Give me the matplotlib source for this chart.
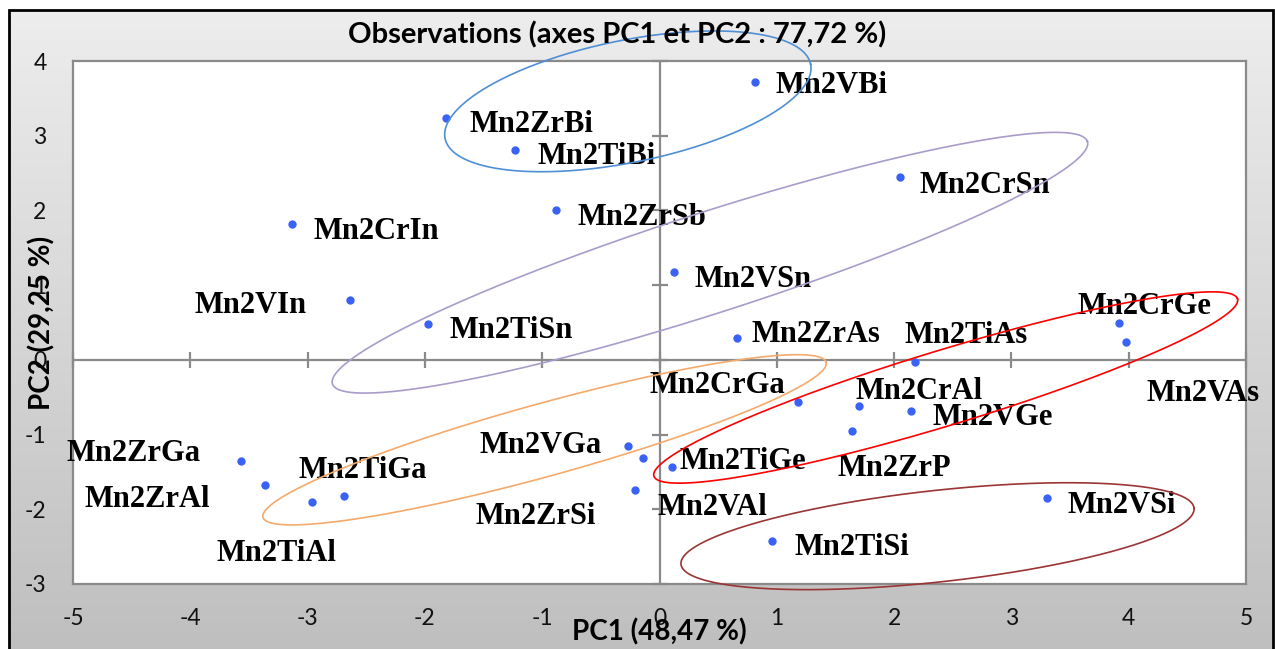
import matplotlib.pyplot as plt
import numpy as np
from matplotlib.patches import Rectangle

plt.rcParams['axes.unicode_minus'] = False

# PCA observations on the first two components
names = ['Mn2VBi', 'Mn2ZrBi', 'Mn2TiBi', 'Mn2CrSn', 'Mn2ZrSb', 'Mn2CrIn', 'Mn2VSn',
         'Mn2VIn', 'Mn2TiSn', 'Mn2ZrAs', 'Mn2TiAs', 'Mn2CrGe', 'Mn2VAs', 'Mn2CrGa',
         'Mn2CrAl', 'Mn2VGe', 'Mn2ZrP', 'Mn2VGa', 'Mn2ZrSi', 'Mn2VAl', 'Mn2TiGe',
         'Mn2ZrGa', 'Mn2ZrAl', 'Mn2TiAl', 'Mn2TiGa', 'Mn2VSi', 'Mn2TiSi']
pc1 = [0.81, -1.82, -1.23, 2.05, -0.88, -3.13, 0.12,
       -2.64, -1.97, 0.66, 2.18, 3.92, 3.98, 1.18,
       1.70, 2.14, 1.64, -0.27, -0.14, -0.21, 0.11,
       -3.57, -3.36, -2.96, -2.69, 3.30, 0.96]
pc2 = [3.72, 3.24, 2.81, 2.45, 2.01, 1.82, 1.18,
       0.80, 0.48, 0.29, -0.03, 0.50, 0.24, -0.56,
       -0.62, -0.68, -0.95, -1.15, -1.31, -1.74, -1.43,
       -1.35, -1.67, -1.90, -1.82, -1.85, -2.42]

# label offsets from the point (pixels, x right / y down)
lab_dx = [21, 23, 22, 20, 21, 21, 21,
          -155, 21, 15, -11, -42, 20, -148,
          -3, 22, -14, -148, -168, 23, 7,
          -174, -181, -96, -45, 21, 22]
lab_dy = [0, 3, 3, 5, 4, 4, 4,
          2, 3, -7, -30, -20, 48, -20,
          -18, 3, 34, -4, 55, 14, -9,
          -11, 11, 48, -29, 4, 3]

# group ellipses: centre, semi-axes (in PC1 units), tilt on screen (deg)
ell_cx = [-0.27, 0.43, -0.98, 2.44, 2.37]
ell_cy = [3.46, 1.30, -1.07, -0.37, -2.36]
ell_a = [1.59, 3.38, 2.49, 2.60, 2.20]
ell_b = [0.52, 0.43, 0.31, 0.32, 0.39]
ell_ang = [11.5, 17.8, 15.4, 16.9, 6.25]
ell_col = ['#4f8fd6', '#a99ccb', '#f5aa6c', '#ff0000', '#9b3535']

xticks = [-5, -4, -3, -2, -1, 0, 1, 2, 3, 4, 5]
yticks = [-3, -2, -1, 0, 1, 2, 3, 4]

W, H = 1275, 649
fig = plt.figure(figsize=(W / 100, H / 100), dpi=100, facecolor='white')

# grey gradient background with black frame
bg = fig.add_axes([9 / W, -0.02, (1273 - 9) / W, 1 - 10 / H + 0.02])
grad = np.linspace(0.93, 0.745, 256).reshape(-1, 1)
bg.imshow(np.dstack([grad, grad, grad]), aspect='auto', extent=[0, 1, 0, 1])
bg.set_xlim(0, 1)
bg.set_ylim(0, 1)
bg.axis('off')
bg.add_patch(Rectangle((0, 0), 1, 1, transform=bg.transAxes, fill=False,
                       lw=2, ec='black', clip_on=False))

ax = fig.add_axes([73 / W, 1 - 584 / H, (1246 - 73) / W, (584 - 61) / H])
ax.set_facecolor('white')
ax.set_xlim(-5, 5)
ax.set_ylim(-3, 4)
for s in ax.spines.values():
    s.set_color('#8a8a8a')
    s.set_linewidth(1.6)

ax.set_xticks(xticks)
ax.set_yticks(yticks)
ax.tick_params(length=0, labelsize=16.5, labelcolor='#111111')
ax.tick_params(axis='x', pad=17)
ax.tick_params(axis='y', pad=19)
for t in ax.get_xticklabels() + ax.get_yticklabels():
    t.set_family('Lato')

# axes through the origin with crossing ticks
gray = '#8a8a8a'
ax.axhline(0, color=gray, lw=1.6, zorder=1)
ax.axvline(0, color=gray, lw=1.6, zorder=1)
ax.plot(xticks, np.zeros(len(xticks)), ls='none', marker='|', ms=12, mew=1.6,
        color=gray, zorder=1, clip_on=False)
ax.plot(np.zeros(len(yticks)), yticks, ls='none', marker='_', ms=12, mew=1.6,
        color=gray, zorder=1, clip_on=False)

ax.plot(pc1, pc2, ls='none', marker='o', ms=6, color='#3a63f5', mec='none', zorder=3)

for x, y, n, dx, dy in zip(pc1, pc2, names, lab_dx, lab_dy):
    ax.annotate(n, (x, y), xytext=(dx * 0.72, -dy * 0.72), textcoords='offset points',
                ha='left', va='center_baseline', fontsize=22, fontweight='bold',
                family='Liberation Serif', color='black', zorder=4)

# ellipses drawn with screen-space tilt
ky = ((1246 - 73) / 10) / ((584 - 61) / 7)
t = np.linspace(0, 2 * np.pi, 400)
for cx, cy, a, b, ang, c in zip(ell_cx, ell_cy, ell_a, ell_b, ell_ang, ell_col):
    th = np.radians(ang)
    u, v = a * np.cos(t), b * np.sin(t)
    ex = cx + u * np.cos(th) - v * np.sin(th)
    ey = cy + (u * np.sin(th) + v * np.cos(th)) * ky
    ax.plot(ex, ey, color=c, lw=1.2, zorder=5, clip_on=False)

fig.text(617 / W, 1 - 35 / H, 'Observations (axes PC1 et PC2 : 77,72 %)',
         ha='center', va='center', fontsize=21, fontweight='bold', family='Lato')
ax.set_xlabel('PC1 (48,47 %)', fontsize=20, fontweight='bold', family='Lato')
ax.xaxis.set_label_coords(0.5, (584 - 632) / (584 - 61))
ax.xaxis.label.set_va('center')
ax.set_ylabel('PC2 (29,25 %)', fontsize=20, fontweight='bold', family='Lato')
ax.yaxis.set_label_coords((42 - 73) / (1246 - 73), 0.5)
ax.yaxis.label.set_va('center')

fig.savefig('out.png', dpi=100)
